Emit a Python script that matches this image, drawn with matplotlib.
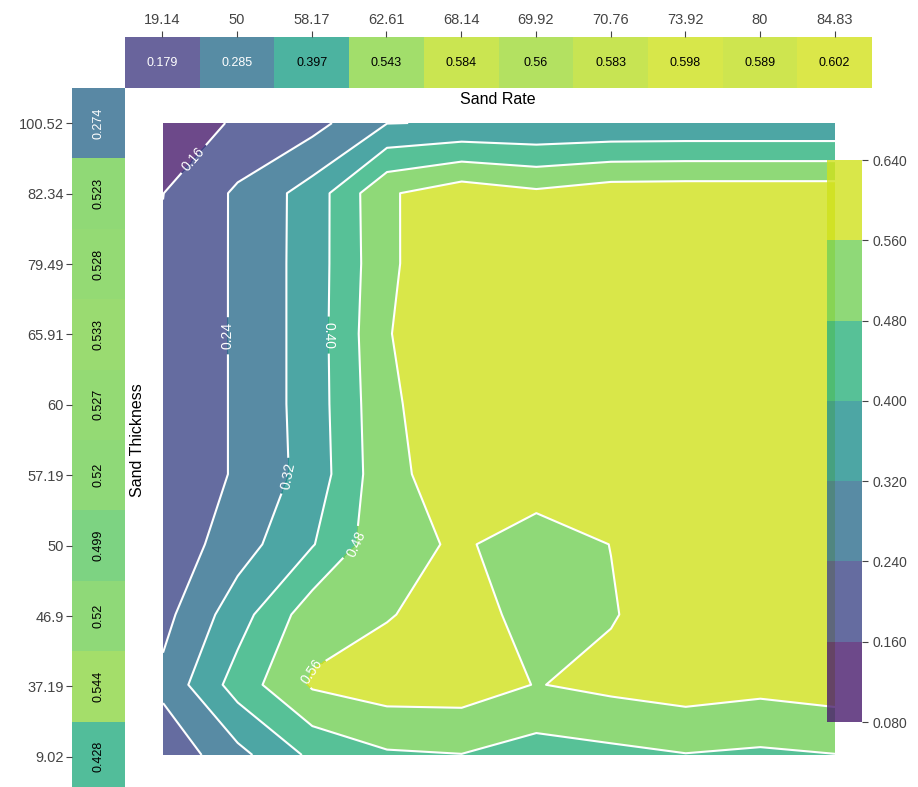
import numpy as np
import matplotlib.pyplot as plt
from matplotlib.colors import Normalize

plt.rcParams['font.family'] = ['Liberation Sans', 'DejaVu Sans']

sand_rate = ['19.14', '50', '58.17', '62.61', '68.14', '69.92', '70.76', '73.92', '80', '84.83']
sand_thickness = ['100.52', '82.34', '79.49', '65.91', '60', '57.19', '50', '46.9', '37.19', '9.02']

# averages shown in the side strips
rate_mean = [0.179, 0.285, 0.397, 0.543, 0.584, 0.56, 0.583, 0.598, 0.589, 0.602]
thickness_mean = [0.274, 0.523, 0.528, 0.533, 0.527, 0.52, 0.499, 0.52, 0.544, 0.428]

# response surface: one row per thickness (top to bottom), one column per rate
row_100_52 = [0.090, 0.174, 0.212, 0.318, 0.325, 0.322, 0.326, 0.328, 0.328, 0.328]
row_82_34 = [0.159, 0.252, 0.355, 0.550, 0.607, 0.575, 0.605, 0.608, 0.608, 0.608]
row_79_49 = [0.170, 0.2505, 0.357, 0.545, 0.630, 0.620, 0.620, 0.620, 0.620, 0.620]
row_65_91 = [0.170, 0.2505, 0.357, 0.555, 0.630, 0.625, 0.625, 0.625, 0.625, 0.625]
row_60 = [0.170, 0.2505, 0.357, 0.545, 0.616, 0.620, 0.620, 0.620, 0.620, 0.620]
row_57_19 = [0.170, 0.2505, 0.352, 0.540, 0.600, 0.600, 0.610, 0.615, 0.615, 0.615]
row_50 = [0.185, 0.283, 0.395, 0.540, 0.568, 0.528, 0.561, 0.600, 0.605, 0.605]
row_46_9 = [0.215, 0.365, 0.525, 0.555, 0.595, 0.530, 0.555, 0.600, 0.600, 0.600]
row_37_19 = [0.261, 0.435, 0.570, 0.600, 0.600, 0.557, 0.580, 0.598, 0.583, 0.598]
row_9_02 = [0.180, 0.296, 0.417, 0.470, 0.478, 0.445, 0.460, 0.477, 0.467, 0.478]

Z = np.array([row_100_52, row_82_34, row_79_49, row_65_91, row_60,
              row_57_19, row_50, row_46_9, row_37_19, row_9_02])

levels = np.linspace(0.08, 0.64, 8)
norm = Normalize(vmin=0.08, vmax=0.64)
tick_grey = '#444444'

fig = plt.figure(figsize=(9.18, 7.87), dpi=100)
W, H = 918.0, 787.0

ax = fig.add_axes([163 / W, 1 - 755 / H, 672 / W, 632 / H])
ax_top = fig.add_axes([125 / W, 1 - 88 / H, 747 / W, 51 / H])
ax_left = fig.add_axes([72 / W, 1 - 792 / H, 53 / W, 704 / H])
cax = fig.add_axes([827 / W, 1 - 722 / H, 35 / W, 562 / H])

# main contour map
xs = np.arange(len(sand_rate))
ys = np.arange(len(sand_thickness))
cf = ax.contourf(xs, ys, Z, levels=levels, cmap='viridis', norm=norm, alpha=0.8)
cs = ax.contour(xs, ys, Z, levels=levels, colors='white', linewidths=1.5)
ax.set_xlim(0, 9)
ax.set_ylim(9, 0)
ax.axis('off')

label_spots = [(0.43, 0.53), (0.87, 3.03), (2.24, 3.02),
               (1.70, 5.04), (2.65, 6.04), (2.00, 7.82)]
ax.clabel(cs, fmt='%.2f', fontsize=10, colors='white', manual=label_spots)

# top strip: sand rate
ax_top.pcolormesh(np.arange(11), [0, 1], np.array([rate_mean]),
                  cmap='viridis', norm=norm, alpha=0.8)
for i, v in enumerate(rate_mean):
    ax_top.text(i + 0.5, 0.5, f'{v:g}', ha='center', va='center', fontsize=9,
                color='white' if v < 0.3 else 'black')
ax_top.set_xlim(0, 10)
ax_top.set_ylim(0, 1)
ax_top.xaxis.tick_top()
ax_top.set_xticks(np.arange(10) + 0.5, sand_rate)
ax_top.set_yticks([])
ax_top.tick_params(axis='x', labelsize=10.5, colors=tick_grey, length=4, pad=3)
for s in ax_top.spines.values():
    s.set_visible(False)

# left strip: sand thickness
ax_left.pcolormesh([0, 1], np.arange(11), np.array([thickness_mean]).T,
                   cmap='viridis', norm=norm, alpha=0.8)
for j, v in enumerate(thickness_mean):
    ax_left.text(0.5, j + 0.5, f'{v:g}', ha='center', va='center', fontsize=9,
                 rotation=90, color='white' if v < 0.3 else 'black')
ax_left.set_xlim(0, 1)
ax_left.set_ylim(10, 0)
ax_left.set_yticks(np.arange(10) + 0.5, sand_thickness)
ax_left.set_xticks([])
ax_left.tick_params(axis='y', labelsize=10.5, colors=tick_grey, length=4, pad=2)
for s in ax_left.spines.values():
    s.set_visible(False)

fig.text(498 / W, 1 - 100 / H, 'Sand Rate', ha='center', va='center', fontsize=11.5)
fig.text(137 / W, 1 - 440 / H, 'Sand Thickness', ha='center', va='center',
         rotation=90, fontsize=11.5)

# colorbar sits partly over the map, so keep its background clear
cb = fig.colorbar(cf, cax=cax, ticks=levels, format='%.3f')
cb.outline.set_visible(False)
cax.set_facecolor('none')
cax.tick_params(labelsize=10, colors=tick_grey, length=4)

fig.savefig('out.png', dpi=100)
